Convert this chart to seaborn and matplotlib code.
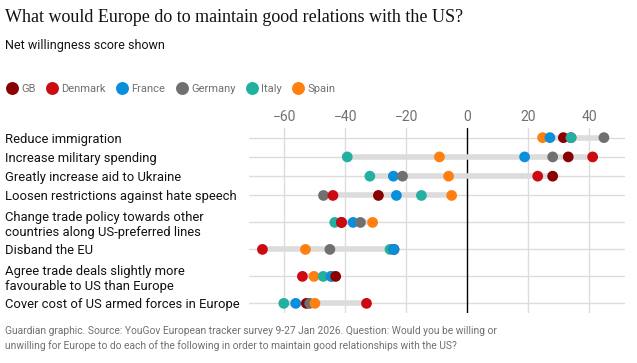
import numpy as np
import pandas as pd
import matplotlib
matplotlib.use("Agg")
import matplotlib.pyplot as plt
import seaborn as sns

# ---- data (net willingness score) ----
actions = [
    "Reduce immigration",
    "Increase military spending",
    "Greatly increase aid to Ukraine",
    "Loosen restrictions against hate speech",
    "Change trade policy towards other\ncountries along US-preferred lines",
    "Disband the EU",
    "Agree trade deals slightly more\nfavourable to US than Europe",
    "Cover cost of US armed forces in Europe",
]
countries = ["GB", "Denmark", "France", "Germany", "Italy", "Spain"]

gb = [31.5, 33.1, 28.0, -29.1, -41.2, -24.0, -43.1, -52.7]
denmark = [34.0, 41.1, 23.1, -44.0, -41.2, -67.1, -54.0, -33.0]
france = [27.1, 18.8, -24.2, -23.2, -37.4, -24.0, -44.5, -56.2]
germany = [44.8, 28.0, -21.2, -47.1, -35.0, -45.0, -44.6, -51.6]
italy = [34.0, -39.3, -31.9, -15.0, -43.4, -25.3, -47.2, -60.1]
spain = [24.7, -9.1, -6.1, -5.1, -31.0, -53.0, -50.2, -49.9]

colors = ["#8b0000", "#cc0a11", "#0a8fdc", "#707070", "#22b1a0", "#ff7f0f"]

# ---- layout: two-line labels get taller rows ----
heights = np.array([1.8 if "\n" in a else 1.0 for a in actions])
row_y = np.cumsum(heights) - heights / 2

series = [gb, denmark, france, germany, italy, spain]
rows = []
for c, vals in zip(countries, series):
    for a, y, v in zip(actions, row_y, vals):
        rows.append({"action": a, "y": y, "country": c, "value": v})
df = pd.DataFrame(rows)
df = df.sort_values("value", kind="stable")

sns.set_style("white")
plt.rcParams["font.family"] = ["Roboto", "DejaVu Sans"]

fig = plt.figure(figsize=(6.37, 3.63), dpi=100)
ax = fig.add_axes([249 / 637, 1 - 313 / 363, (625 - 249) / 637, (313 - 128) / 363])

# grid
for y in row_y:
    ax.axhline(y, color="#dcdcdc", lw=1, zorder=0)
for x in [-60, -40, -20, 20, 40]:
    ax.axvline(x, color="#dcdcdc", lw=1, zorder=0)
ax.axvline(0, color="black", lw=1, zorder=1)

# range bars
rng = df.groupby("y")["value"].agg(["min", "max"])
ax.hlines(rng.index, rng["min"], rng["max"], color="#dcdcdc", lw=4, zorder=1)

sns.scatterplot(data=df, x="value", y="y", hue="country", hue_order=countries,
                palette=dict(zip(countries, colors)), s=60, linewidth=0,
                ax=ax, zorder=3)

ax.set_xlim(-71.5, 51.7)
ax.set_ylim(heights.sum(), 0)
ax.set_xticks([-60, -40, -20, 0, 20, 40])
ax.set_xticklabels(["\u221260", "\u221240", "\u221220", "0", "20", "40"])
ax.xaxis.tick_top()
ax.tick_params(axis="x", length=0, pad=3, labelsize=10, labelcolor="#707070")
ax.set_yticks(row_y)
ax.set_yticklabels(actions, linespacing=1.25)
ax.tick_params(axis="y", length=0, pad=(249 - 5) * 0.72, labelsize=9.4, labelcolor="#121212")
for t in ax.get_yticklabels():
    t.set_ha("left")
ax.set_xlabel("")
ax.set_ylabel("")
for s in ax.spines.values():
    s.set_visible(False)

sns.move_legend(ax, "center left", bbox_to_anchor=(7 / 637, 1 - 89 / 363),
                bbox_transform=fig.transFigure, ncol=6, frameon=False, title=None,
                borderpad=0, borderaxespad=0, handlelength=0.9, handletextpad=0.36,
                columnspacing=1.05, fontsize=8.0, markerscale=1.2)
for t in ax.get_legend().get_texts():
    t.set_color("#707070")

fig.text(5 / 637, 1 - 17 / 363, "What would Europe do to maintain good relations with the US?",
         family=["Liberation Serif", "DejaVu Serif"], fontsize=13.0, color="#121212", va="center")
fig.text(5 / 637, 1 - 46 / 363, "Net willingness score shown", fontsize=9.0,
         color="#121212", va="center")
fig.text(5 / 637, 1 - 326 / 363,
         "Guardian graphic. Source: YouGov European tracker survey 9-27 Jan 2026. Question: Would you be willing or\n"
         "unwilling for Europe to do each of the following in order to maintain good relationships with the US?",
         fontsize=7.4, color="#707070", va="top", linespacing=1.45)

fig.savefig("out.png", dpi=100)
